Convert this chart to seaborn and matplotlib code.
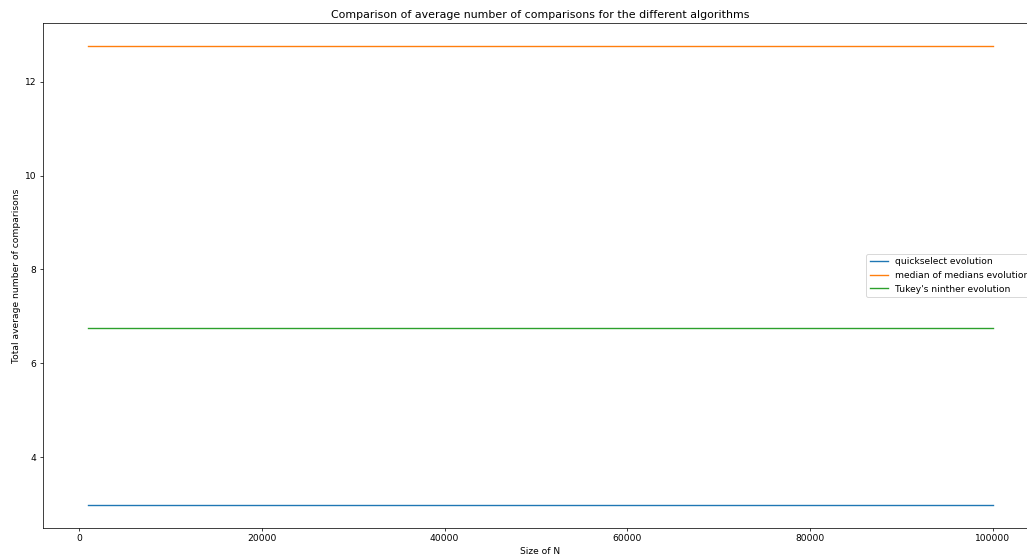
import matplotlib
matplotlib.use("Agg")
import matplotlib.pyplot as plt
import seaborn as sns
import numpy as np

# Data
sizes = [1000, 10000, 20000, 30000, 40000, 50000, 60000, 70000, 80000, 90000, 100000]
quickselect = [2.976] * len(sizes)
median_of_medians = [12.768] * len(sizes)
tukey_ninther = [6.752] * len(sizes)
series_labels = ["quickselect evolution", "median of medians evolution", "Tukey's ninther evolution"]
series_colors = ["#1f77b4", "#ff7f0e", "#2ca02c"]

DPI = 66
fig = plt.figure(figsize=(1027 / DPI, 556 / DPI), dpi=DPI)
ax = fig.add_axes([43 / 1027, 1 - 528 / 556, (1038 - 43) / 1027, (528 - 23) / 556])

for vals, lab, col in zip([quickselect, median_of_medians, tukey_ninther], series_labels, series_colors):
    sns.lineplot(x=sizes, y=vals, ax=ax, label=lab, color=col)

ax.set_title("Comparison of average number of comparisons for the different algorithms")
ax.set_xlabel("Size of N")
ax.set_ylabel("Total average number of comparisons")
ax.legend(loc="center right")

fig.savefig("out.png", dpi=DPI)
